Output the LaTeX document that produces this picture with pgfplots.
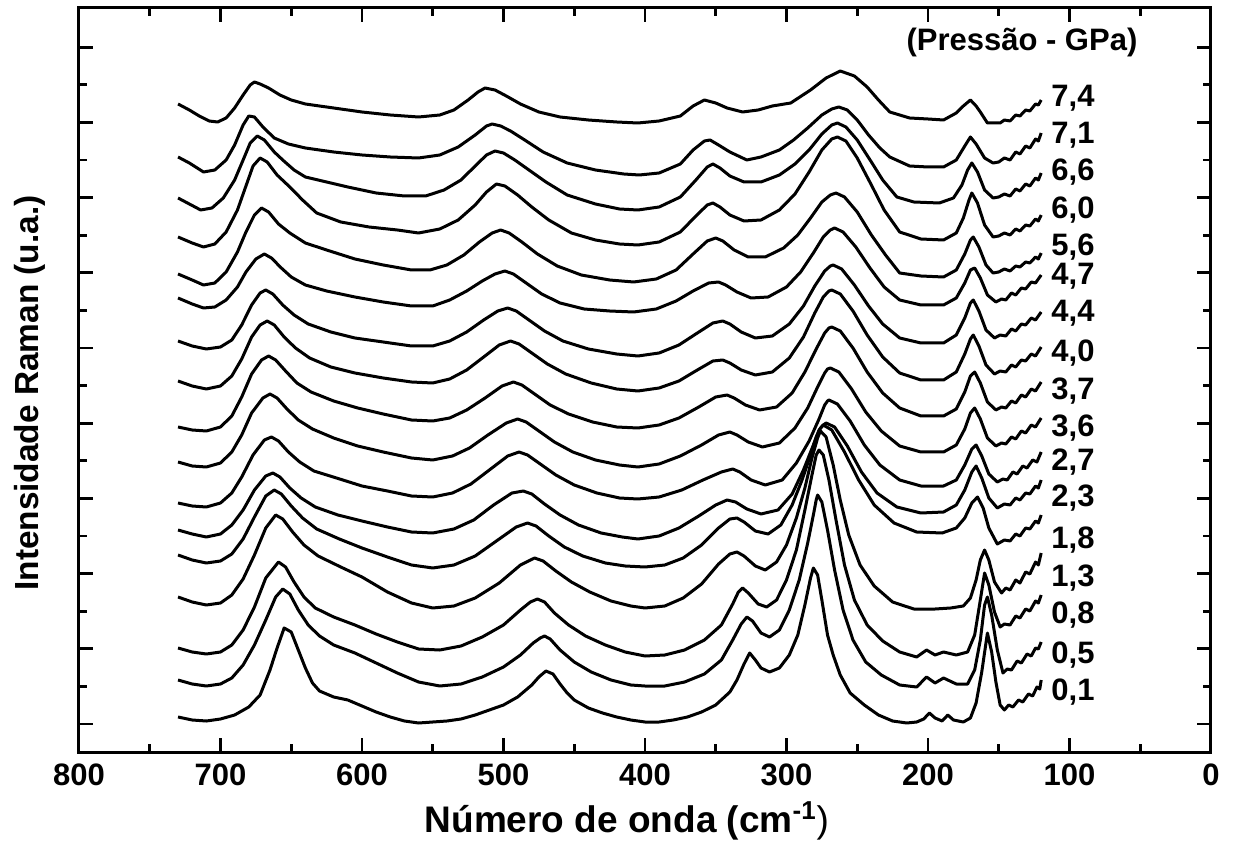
\documentclass[border=0pt]{standalone}
\usepackage{fontspec}
\setmainfont{Liberation Sans}
\usepackage{pgfplots}
\pgfplotsset{compat=1.18}
\begin{document}
\begin{tikzpicture}
\begin{axis}[
  scale only axis, width=566pt, height=372pt,
  xmin=0, xmax=800, x dir=reverse,
  ymin=8, ymax=752, y dir=reverse,
  xtick={0,100,...,800}, minor x tick num=1,
  ytick={47.2,122.4,197.6,272.8,348,423.2,498.4,573.6,648.8,724},
  minor y tick num=1, yticklabels={},
  tick align=inside, xtick pos=both, ytick pos=both,
  major tick length=7pt, minor tick length=4pt,
  every tick/.style={black, line width=1.4pt},
  axis line style={line width=1.5pt},
  /pgf/number format/assume math mode=true,
  xticklabel style={font=\fontsize{15.5}{17}\selectfont\bfseries, yshift=-2.5pt},
  xlabel={Número de onda (cm\textsuperscript{-1}{\mdseries)}},
  xlabel style={font=\fontsize{18.5}{20}\selectfont\bfseries, at={(axis description cs:0.484,0)}, anchor=base, yshift=-40pt},
  ylabel={Intensidade Raman (u.a.)},
  ylabel style={font=\fontsize{16.7}{19}\selectfont\bfseries, at={(axis description cs:-0.0433,0.4825)}, anchor=center},
  cycle list={{black,solid}},
  every axis plot post/.append style={no markers, line width=1.5pt, line join=round},
  clip=false,
]
% 7,4
\addplot coordinates {(730,104) (722,110) (715,116) (708,121) (702,122) (696,118) (690,108) (684,95) (679,85) (676,82) (672,84) (666,88) (658,95) (650,100) (640,104) (630,106) (620,108) (600,112) (580,115) (560,117) (545,115) (535,110) (525,100) (518,92) (513,88) (506,90) (498,96) (488,104) (475,112) (460,117) (440,120) (420,122) (405,123) (390,121) (375,116) (366,106) (358,100) (350,103) (342,108) (331,112) (320,110) (310,106) (297,103) (283,90) (272,78) (262,71) (252,76) (243,87) (235,100) (227,112) (213,118) (200,119) (189,120) (180,113) (175,106) (170,100) (166,106) (163,112) (158,123) (149,123) (146,120) (142,121) (138,115) (135,116) (131,110) (128,111) (124,104) (122,105) (120,100)};
% 7,1
\addplot coordinates {(730,157) (722,163) (712,172) (704,170) (696,160) (690,145) (684,125) (680,116) (676,117) (670,127) (662,138) (652,144) (640,148) (620,152) (600,155) (580,157) (560,158) (545,155) (532,147) (520,135) (512,126) (508,124) (502,126) (495,131) (485,140) (472,152) (455,163) (435,170) (415,174) (404,175) (390,173) (375,164) (366,150) (358,141) (354,140) (348,145) (340,152) (328,160) (318,157) (305,150) (295,140) (285,128) (275,115) (268,109) (263,107) (257,110) (250,120) (242,135) (234,148) (227,157) (213,166) (200,167) (189,167) (180,160) (174,146) (170,137) (166,144) (160,158) (154,163) (150,162) (146,158) (142,160) (138,152) (135,154) (131,146) (128,148) (124,139) (122,141) (120,133)};
% 6,6
\addplot coordinates {(730,198) (722,204) (714,210) (706,208) (698,198) (690,180) (684,160) (679,143) (674,136) (669,140) (662,152) (656,160) (648,170) (640,177) (625,182) (610,187) (590,193) (570,196) (555,196) (542,190) (530,180) (520,166) (512,155) (506,151) (500,153) (492,160) (482,170) (470,182) (455,195) (435,204) (418,209) (405,210) (390,207) (375,197) (364,180) (356,167) (352,164) (347,168) (340,176) (330,182) (318,182) (305,175) (294,164) (284,150) (275,134) (268,125) (264,123) (258,127) (250,140) (240,162) (232,180) (222,197) (210,202) (192,203) (182,198) (176,185) (172,170) (169,163) (165,172) (160,190) (154,198) (150,197) (146,194) (142,196) (138,189) (135,191) (131,184) (128,186) (124,178) (122,180) (120,173)};
% 6,0
\addplot coordinates {(730,237) (720,243) (712,247) (704,244) (696,232) (688,210) (682,186) (677,166) (672,158) (667,162) (660,175) (651,187) (642,200) (632,213) (615,222) (595,227) (575,230) (560,233) (545,229) (532,220) (520,205) (512,192) (505,184) (499,186) (490,195) (480,207) (468,220) (452,233) (435,240) (418,244) (405,245) (390,242) (375,232) (364,216) (356,205) (352,203) (347,207) (340,215) (330,221) (318,220) (305,210) (294,194) (284,172) (275,150) (268,139) (264,137) (258,141) (250,158) (240,185) (231,210) (220,232) (205,239) (189,240) (180,233) (175,218) (171,200) (169,193) (165,203) (160,225) (154,237) (150,236) (146,233) (142,235) (138,229) (135,231) (131,225) (128,226) (124,219) (122,221) (120,215)};
% 5,6
\addplot coordinates {(730,274) (720,280) (712,285) (704,283) (696,272) (688,252) (682,232) (676,215) (671,208) (666,212) (659,224) (651,233) (640,243) (625,250) (605,259) (585,265) (565,270) (552,270) (540,265) (528,255) (517,242) (508,233) (502,230) (496,233) (487,242) (476,254) (462,266) (445,275) (425,280) (408,282) (392,279) (378,270) (366,254) (356,241) (350,238) (345,241) (337,250) (327,257) (315,257) (302,248) (292,235) (283,218) (275,202) (269,195) (265,193) (259,197) (250,212) (240,235) (230,255) (220,273) (205,276) (189,277) (180,270) (174,254) (170,240) (168,237) (164,247) (159,265) (154,273) (150,272) (146,269) (142,271) (138,266) (135,267) (131,262) (128,263) (124,257) (122,259) (120,253)};
% 4,7
\addplot coordinates {(730,298) (720,304) (712,308) (704,307) (696,300) (688,287) (682,272) (675,259) (669,254) (664,258) (657,268) (650,277) (640,285) (625,291) (605,297) (585,302) (565,306) (550,306) (538,300) (526,291) (515,281) (506,274) (499,271) (493,274) (484,283) (473,294) (460,303) (443,309) (425,311) (408,312) (392,309) (378,301) (366,291) (355,283) (348,282) (343,285) (335,292) (325,298) (313,297) (300,287) (290,272) (281,253) (274,237) (269,230) (266,228) (260,232) (251,247) (241,268) (231,287) (220,300) (205,305) (189,305) (180,298) (174,283) (170,270) (167,268) (163,278) (158,295) (152,302) (148,299) (145,300) (141,293) (138,295) (134,288) (131,289) (127,282) (124,283) (120,275)};
% 4,4
\addplot coordinates {(730,341) (720,346) (710,349) (700,347) (692,340) (685,325) (678,305) (672,293) (668,290) (663,294) (656,305) (648,315) (638,324) (622,332) (605,338) (585,342) (565,346) (550,346) (538,341) (526,332) (514,320) (504,311) (497,308) (491,311) (482,320) (471,331) (458,341) (440,349) (420,354) (405,356) (390,353) (376,345) (363,333) (352,323) (345,321) (340,324) (332,332) (322,338) (310,336) (298,324) (288,306) (280,286) (273,271) (269,266) (267,265) (261,269) (252,285) (242,306) (232,324) (220,338) (205,343) (189,343) (180,335) (174,318) (170,303) (168,300) (164,311) (159,330) (153,338) (149,335) (145,336) (141,329) (138,331) (134,324) (131,325) (127,318) (124,320) (120,312)};
% 4,0
\addplot coordinates {(730,381) (720,386) (710,389) (700,386) (692,376) (685,359) (678,337) (672,325) (667,321) (662,325) (655,337) (647,348) (637,358) (622,367) (605,373) (585,378) (565,382) (550,383) (538,379) (526,370) (514,357) (503,345) (495,341) (489,344) (480,353) (469,364) (456,374) (438,383) (420,389) (405,391) (390,388) (376,381) (363,370) (352,361) (345,360) (340,363) (332,370) (322,375) (310,372) (298,358) (288,337) (280,313) (274,297) (270,291) (268,290) (262,294) (253,311) (243,335) (232,357) (220,373) (205,380) (189,380) (180,372) (174,354) (170,339) (168,335) (164,346) (159,365) (153,374) (149,371) (145,372) (141,365) (138,367) (134,360) (131,361) (127,354) (124,356) (120,347)};
% 3,7
\addplot coordinates {(730,427) (720,430) (710,431) (700,427) (692,416) (685,397) (678,374) (671,360) (666,356) (661,360) (654,371) (646,383) (636,392) (620,401) (603,408) (585,414) (565,420) (550,421) (538,418) (526,410) (513,398) (501,386) (493,382) (487,385) (478,394) (467,405) (454,414) (437,422) (420,427) (405,428) (390,425) (376,418) (362,407) (350,397) (342,395) (337,398) (329,405) (319,410) (307,407) (296,393) (287,372) (279,349) (273,333) (270,328) (268,327) (262,331) (253,348) (243,372) (232,393) (220,408) (205,416) (189,416) (180,409) (174,392) (170,376) (167,372) (163,383) (158,402) (152,410) (148,407) (145,408) (141,401) (138,403) (134,395) (131,397) (127,389) (124,391) (120,382)};
% 3,6
\addplot coordinates {(730,462) (720,466) (710,467) (700,463) (692,452) (685,435) (678,413) (670,398) (665,394) (660,398) (653,409) (645,420) (635,429) (620,438) (603,446) (585,452) (565,458) (550,460) (536,456) (524,448) (511,435) (498,423) (490,419) (484,422) (475,431) (464,442) (451,452) (435,460) (418,465) (405,467) (390,464) (375,456) (360,445) (348,435) (340,432) (335,435) (327,442) (317,447) (305,443) (294,428) (285,408) (278,387) (273,373) (271,369) (269,368) (263,372) (254,389) (244,412) (233,431) (220,446) (205,452) (189,452) (180,445) (174,429) (170,413) (167,408) (163,419) (158,438) (152,446) (148,443) (145,444) (141,437) (138,439) (134,431) (131,433) (127,425) (124,427) (120,418)};
% 2,7
\addplot coordinates {(730,503) (720,506) (710,507) (700,503) (692,493) (685,477) (677,455) (669,440) (664,437) (659,441) (652,452) (644,462) (634,471) (618,478) (600,486) (582,491) (565,496) (550,497) (536,493) (523,484) (510,470) (497,456) (489,452) (483,455) (474,464) (463,475) (450,485) (434,493) (418,498) (405,499) (390,497) (374,490) (359,480) (346,472) (338,469) (333,472) (325,480) (315,485) (303,480) (293,463) (284,441) (277,419) (273,405) (271,401) (270,400) (264,404) (255,421) (245,445) (234,465) (220,480) (205,486) (189,486) (180,480) (174,465) (169,449) (166,445) (162,456) (157,474) (151,482) (147,479) (144,480) (140,472) (137,474) (133,466) (130,468) (126,460) (123,462) (120,452)};
% 2,3
\addplot coordinates {(730,530) (720,534) (710,537) (700,534) (692,525) (684,510) (676,490) (668,476) (663,473) (658,477) (651,488) (643,498) (633,507) (617,515) (600,521) (582,527) (565,532) (550,533) (535,529) (521,520) (507,505) (494,493) (486,491) (480,494) (471,504) (460,515) (447,525) (431,533) (416,537) (405,539) (390,536) (376,528) (362,516) (350,505) (342,500) (336,502) (328,509) (318,514) (306,510) (296,494) (288,470) (281,445) (277,430) (274,425) (272,423) (266,427) (257,446) (247,472) (236,493) (222,507) (205,513) (189,512) (180,505) (174,490) (169,472) (166,466) (162,478) (157,498) (151,508) (146,504) (142,505) (138,498) (135,500) (131,493) (128,494) (124,486) (122,488) (120,480)};
% 1,8
\addplot coordinates {(730,555) (720,560) (710,563) (700,561) (692,554) (684,539) (676,517) (668,496) (662,490) (657,494) (650,506) (642,518) (632,529) (616,539) (600,548) (582,557) (565,565) (550,568) (535,565) (520,556) (505,541) (491,527) (483,523) (477,526) (468,536) (457,547) (444,556) (428,563) (414,566) (400,567) (386,565) (373,558) (360,545) (348,528) (340,519) (335,518) (330,522) (322,531) (313,534) (304,525) (296,505) (289,480) (283,455) (279,437) (276,428) (274,425) (268,430) (259,452) (249,480) (238,505) (224,523) (208,532) (190,533) (180,528) (174,518) (169,503) (165,497) (161,508) (157,528) (151,544) (146,540) (142,541) (138,534) (135,536) (131,528) (128,529) (124,521) (122,523) (120,515)};
% 1,3
\addplot coordinates {(730,597) (720,602) (710,605) (700,603) (692,595) (684,579) (676,555) (668,528) (661,515) (656,519) (649,532) (641,545) (631,556) (615,567) (600,577) (582,592) (565,603) (550,608) (535,606) (520,598) (503,583) (488,565) (478,558) (472,561) (463,571) (452,582) (439,592) (424,601) (410,606) (400,608) (386,606) (373,598) (360,584) (348,564) (340,554) (335,552) (330,556) (322,566) (315,570) (307,562) (300,545) (293,518) (287,488) (282,458) (278,438) (276,431) (272,437) (267,465) (262,500) (256,535) (248,565) (238,586) (225,602) (210,609) (195,609) (184,608) (175,606) (170,598) (166,580) (163,560) (160,550) (157,560) (153,582) (148,593) (145,588) (142,590) (138,580) (135,583) (131,572) (128,574) (124,562) (122,565) (120,553)};
% 0,8
\addplot coordinates {(730,648) (720,652) (710,654) (700,652) (692,645) (684,630) (676,607) (668,578) (659,562) (654,567) (648,582) (641,597) (633,608) (620,617) (605,625) (590,634) (575,642) (560,649) (545,650) (530,646) (515,637) (500,625) (488,610) (481,602) (476,599) (471,602) (464,613) (454,625) (442,636) (428,645) (414,652) (400,656) (386,655) (372,650) (358,640) (346,625) (338,604) (334,592) (331,588) (327,593) (320,604) (314,607) (307,600) (300,580) (293,550) (287,510) (282,475) (279,455) (277,450) (274,455) (270,480) (265,520) (259,565) (252,600) (243,625) (232,641) (220,652) (208,657) (201,650) (195,655) (189,652) (180,655) (172,652) (167,635) (163,600) (160,573) (157,585) (153,612) (149,627) (146,624) (142,625) (138,616) (135,618) (131,609) (128,611) (124,601) (122,603) (120,595)};
% 0,5
\addplot coordinates {(730,680) (720,684) (710,686) (700,684) (692,678) (684,665) (676,645) (668,620) (661,597) (656,589) (651,594) (645,610) (638,625) (630,636) (620,645) (605,653) (590,663) (575,673) (560,682) (545,686) (530,684) (515,677) (500,667) (488,655) (479,643) (474,638) (471,636) (467,639) (460,650) (450,662) (438,672) (424,680) (410,685) (400,686) (386,686) (372,682) (358,674) (346,660) (338,640) (332,624) (328,617) (324,621) (318,633) (312,637) (305,630) (298,610) (291,580) (285,543) (281,515) (279,500) (278,495) (275,502) (271,530) (266,570) (260,610) (253,640) (244,662) (233,675) (220,685) (208,687) (201,677) (195,683) (189,678) (180,684) (172,684) (167,670) (163,640) (160,605) (158,597) (155,615) (151,650) (147,673) (144,669) (141,670) (137,661) (134,663) (130,654) (127,656) (124,648) (122,649) (120,642)};
% 0,1
\addplot coordinates {(730,717) (720,720) (710,721) (700,719) (690,715) (680,707) (672,695) (665,670) (660,648) (655,628) (650,632) (645,650) (640,668) (635,683) (630,691) (620,697) (610,700) (600,706) (590,712) (580,717) (570,721) (560,723) (550,722) (540,721) (530,719) (520,715) (510,710) (500,705) (490,697) (480,685) (475,677) (470,671) (465,674) (460,684) (455,693) (450,700) (440,708) (430,713) (420,717) (410,720) (400,722) (390,722) (380,720) (370,717) (360,712) (350,705) (340,692) (335,680) (330,664) (326,653) (322,660) (318,668) (312,672) (305,668) (298,655) (292,635) (287,605) (283,578) (281,568) (278,575) (275,600) (271,635) (267,655) (262,675) (255,693) (245,705) (235,715) (225,721) (215,723) (208,722) (203,719) (199,713) (195,718) (190,721) (186,715) (182,720) (175,722) (170,718) (166,703) (162,672) (158,633) (155,652) (152,682) (149,705) (146,710) (143,705) (140,707) (136,700) (133,702) (129,694) (126,696) (123,687) (121,689) (120,680)};
% labels
\begin{scope}[every node/.style={font=\fontsize{15.5}{17}\selectfont\bfseries, anchor=center}]
\node at (axis cs:133.6,42) {(Pressão - GPa)};
\node at (axis cs:97.5,98) {7,4};
\node at (axis cs:97.5,135) {7,1};
\node at (axis cs:97.5,172) {6,6};
\node at (axis cs:97.5,210) {6,0};
\node at (axis cs:97.5,247) {5,6};
\node at (axis cs:97.5,276) {4,7};
\node at (axis cs:97.5,313) {4,4};
\node at (axis cs:97.5,353) {4,0};
\node at (axis cs:97.5,391) {3,7};
\node at (axis cs:97.5,428) {3,6};
\node at (axis cs:97.5,462) {2,7};
\node at (axis cs:97.5,498) {2,3};
\node at (axis cs:97.5,540) {1,8};
\node at (axis cs:97.5,578) {1,3};
\node at (axis cs:97.5,615) {0,8};
\node at (axis cs:97.5,655) {0,5};
\node at (axis cs:97.5,692) {0,1};
\end{scope}
\end{axis}
\pgfresetboundingbox
\useasboundingbox (-39.5pt,-54pt) rectangle (578pt,376pt);
\end{tikzpicture}
\end{document}
